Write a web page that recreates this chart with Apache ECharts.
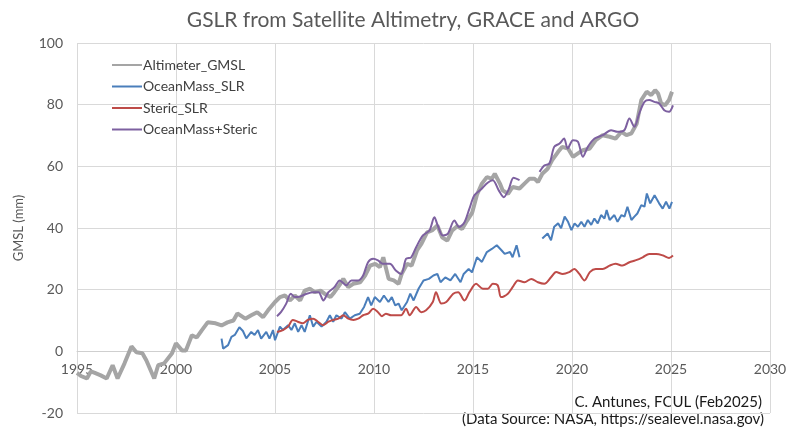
<!DOCTYPE html>
<html>
<head>
<meta charset="utf-8">
<script src="https://cdn.jsdelivr.net/npm/echarts@6/dist/echarts.min.js"></script>
<style>
html,body{margin:0;padding:0;background:#fff;}
#chart{width:793px;height:435px;}
</style>
</head>
<body>
<div id="chart"></div>
<script>
// ---- Data (year, mm) ----
var seriesNames = ['Altimeter_GMSL', 'OceanMass_SLR', 'Steric_SLR', 'OceanMass+Steric'];
var xTicks = [1995, 2000, 2005, 2010, 2015, 2020, 2025, 2030];
var yTicks = [-20, 0, 20, 40, 60, 80, 100];

var altimeterGMSL = [
[1995.0,-7.0],[1995.2,-8.0],[1995.5,-8.8],[1995.7,-6.5],[1995.9,-7.0],[1996.2,-7.8],[1996.5,-8.8],
[1996.8,-4.5],[1997.05,-8.8],[1997.4,-3.9],[1997.75,1.6],[1998.0,-0.3],[1998.3,-0.6],[1998.5,-2.9],
[1998.9,-8.8],[1999.1,-4.5],[1999.4,-3.9],[1999.8,-0.6],[2000.0,2.6],[2000.3,0.3],[2000.5,0.3],
[2000.8,5.2],[2001.05,4.5],[2001.3,6.8],[2001.6,9.4],[2002.0,9.1],[2002.3,8.4],[2002.6,9.4],
[2002.9,10.0],[2003.1,12.3],[2003.5,10.6],[2003.8,11.7],[2004.1,12.7],[2004.4,11.1],[2004.65,13.3],
[2005.0,16.0],[2005.25,17.6],[2005.5,18.1],[2005.76,16.5],[2006.0,18.1],[2006.27,16.5],[2006.5,19.7],
[2006.77,20.3],[2007.0,19.2],[2007.3,19.7],[2007.5,18.7],[2007.8,17.6],[2008.0,19.2],[2008.3,21.9],
[2008.45,23.5],[2008.7,20.8],[2008.95,21.9],[2009.3,22.4],[2009.55,24.6],[2009.8,27.8],[2010.06,28.4],
[2010.3,27.3],[2010.47,30.5],[2010.57,27.8],[2010.74,23.5],[2011.0,23.0],[2011.24,21.9],[2011.4,25.1],
[2011.67,28.4],[2011.9,27.8],[2012.17,32.7],[2012.4,34.9],[2012.68,38.6],[2012.93,39.2],[2013.2,40.8],
[2013.44,37.0],[2013.7,35.9],[2013.95,39.2],[2014.2,40.6],[2014.45,39.7],[2014.7,42.4],[2014.96,45.0],
[2015.2,50.8],[2015.45,54.4],[2015.7,56.5],[2015.95,56.0],[2016.1,57.6],[2016.36,54.4],[2016.5,52.2],
[2016.77,51.1],[2017.0,53.3],[2017.35,52.8],[2017.6,54.4],[2017.86,56.0],[2018.1,56.0],[2018.28,54.9],
[2018.5,57.6],[2018.77,59.2],[2019.0,62.0],[2019.3,64.7],[2019.5,66.3],[2019.8,65.8],[2020.05,63.1],
[2020.3,64.2],[2020.55,65.2],[2020.9,65.8],[2021.2,68.5],[2021.55,70.1],[2021.9,69.6],[2022.2,69.0],
[2022.5,71.2],[2022.75,70.1],[2023.0,70.7],[2023.27,73.9],[2023.5,81.5],[2023.77,84.2],[2024.0,83.1],
[2024.2,84.7],[2024.35,83.6],[2024.5,80.4],[2024.7,79.8],[2024.9,81.5],[2025.05,84.2]
];

var oceanMassSLR = [
[2002.3,4.1],[2002.38,0.9],[2002.63,2.0],[2002.8,4.7],[2002.97,5.3],[2003.2,7.8],[2003.38,6.6],
[2003.55,4.2],[2003.8,6.3],[2003.97,5.3],[2004.14,6.9],[2004.3,4.1],[2004.56,6.3],[2004.72,4.1],
[2004.9,6.9],[2005.0,3.6],[2005.25,8.0],[2005.4,6.9],[2005.66,8.5],[2005.83,6.9],[2006.0,9.1],
[2006.17,6.3],[2006.34,8.5],[2006.5,6.3],[2006.76,11.7],[2006.93,8.0],[2007.1,9.6],[2007.35,8.0],
[2007.6,9.6],[2007.77,11.7],[2007.94,9.6],[2008.1,11.7],[2008.36,10.6],[2008.53,12.7],[2008.78,10.6],
[2009.03,11.7],[2009.28,12.2],[2009.5,14.4],[2009.7,17.6],[2009.86,14.9],[2010.04,17.6],[2010.3,16.0],
[2010.5,18.1],[2010.73,16.0],[2010.9,17.6],[2011.07,14.9],[2011.24,15.5],[2011.4,13.3],[2011.67,16.0],
[2011.83,18.7],[2012.0,16.5],[2012.25,20.3],[2012.5,23.0],[2012.77,23.5],[2013.0,24.6],[2013.2,25.1],
[2013.36,22.4],[2013.6,24.0],[2013.86,23.0],[2014.1,25.1],[2014.37,22.4],[2014.53,25.1],[2014.78,26.7],
[2014.95,25.6],[2015.2,30.5],[2015.45,29.0],[2015.7,32.2],[2015.95,33.2],[2016.2,34.4],[2016.45,32.7],
[2016.6,31.6],[2016.87,32.2],[2017.0,30.5],[2017.2,34.4],[2017.35,30.5],
[2017.9,null],
[2018.5,36.6],[2018.77,38.2],[2018.94,36.0],[2019.1,40.4],[2019.3,41.5],[2019.45,39.9],[2019.63,43.7],
[2019.8,42.0],[2019.97,39.3],[2020.13,41.5],[2020.3,40.4],[2020.47,42.0],[2020.63,40.4],[2020.8,42.6],
[2020.97,41.0],[2021.13,43.1],[2021.3,41.5],[2021.47,44.2],[2021.64,43.1],[2021.75,45.8],[2021.9,42.6],
[2022.14,44.2],[2022.3,42.0],[2022.5,44.2],[2022.65,43.7],[2022.8,46.9],[2023.0,42.6],[2023.15,43.7],
[2023.3,44.7],[2023.5,47.4],[2023.66,46.9],[2023.78,51.2],[2023.95,48.0],[2024.17,50.6],[2024.4,48.0],
[2024.58,46.3],[2024.75,48.5],[2024.92,46.3],[2025.05,48.5]
];

var stericSLR = [
[2005.1,6.3],[2005.4,6.9],[2005.66,8.0],[2005.9,10.2],[2006.15,9.6],[2006.4,9.1],[2006.66,10.2],
[2006.93,10.6],[2007.17,9.6],[2007.43,8.5],[2007.7,9.6],[2007.94,10.2],[2008.2,10.6],[2008.45,11.7],
[2008.7,10.6],[2008.96,10.2],[2009.2,10.6],[2009.45,11.7],[2009.7,12.2],[2009.96,13.8],[2010.2,12.7],
[2010.4,11.4],[2010.6,12.2],[2010.87,11.7],[2011.2,11.7],[2011.37,11.7],[2011.62,13.8],[2011.8,11.7],
[2012.13,14.4],[2012.38,12.7],[2012.63,13.3],[2012.97,16.0],[2013.13,19.2],[2013.4,15.5],[2013.65,16.0],
[2014.0,18.7],[2014.25,19.2],[2014.57,16.5],[2014.82,19.2],[2015.16,21.9],[2015.5,20.3],[2015.75,20.3],
[2016.0,21.9],[2016.25,21.4],[2016.42,17.6],[2016.76,18.7],[2017.0,20.8],[2017.27,23.0],[2017.6,22.4],
[2017.95,23.5],[2018.28,22.4],[2018.6,21.9],[2018.95,24.1],[2019.2,25.7],[2019.53,25.1],[2019.86,25.7],
[2020.12,26.7],[2020.37,25.1],[2020.63,23.0],[2020.9,25.7],[2021.2,26.7],[2021.55,26.7],[2021.9,27.8],
[2022.2,28.4],[2022.55,27.8],[2022.9,28.9],[2023.2,29.5],[2023.57,30.5],[2023.9,31.6],[2024.25,31.6],
[2024.6,31.1],[2024.9,30.3],[2025.1,31.1]
];

var oceanMassPlusSteric = [
[2005.1,11.4],[2005.3,12.7],[2005.56,15.4],[2005.8,18.7],[2006.0,17.6],[2006.27,17.8],[2006.6,18.7],
[2006.95,19.2],[2007.2,19.2],[2007.44,16.5],[2007.7,19.2],[2008.0,20.8],[2008.27,23.0],[2008.6,21.4],
[2008.86,23.0],[2009.2,23.0],[2009.45,24.6],[2009.7,28.9],[2009.96,30.0],[2010.2,29.5],[2010.45,28.4],
[2010.8,28.4],[2011.1,26.2],[2011.37,25.1],[2011.62,30.0],[2011.88,30.5],[2012.13,33.8],[2012.47,37.6],
[2012.8,39.2],[2013.05,43.5],[2013.22,40.8],[2013.47,37.6],[2013.72,38.1],[2014.06,42.4],[2014.3,40.3],
[2014.57,41.9],[2014.82,46.3],[2015.07,50.6],[2015.4,52.5],[2015.74,54.7],[2016.0,55.5],[2016.3,52.2],
[2016.55,50.0],[2016.8,52.5],[2017.05,56.3],[2017.35,55.5],
[2017.9,null],
[2018.36,58.2],[2018.6,60.3],[2018.86,60.9],[2019.1,66.3],[2019.37,67.4],[2019.6,69.0],[2019.78,65.8],
[2020.05,68.5],[2020.3,68.0],[2020.55,63.1],[2020.8,66.3],[2021.14,69.0],[2021.55,70.1],[2021.97,71.7],
[2022.3,71.2],[2022.64,71.7],[2022.9,75.5],[2023.15,72.8],[2023.4,77.2],[2023.66,80.9],[2023.9,81.5],
[2024.16,80.9],[2024.4,80.4],[2024.66,78.2],[2024.9,77.7],[2025.1,79.8]
];

function prep(arr){ return arr.map(function(p){ return [p[0], p[1] === null ? '-' : p[1]]; }); }

var FONT = 'Lato, "Open Sans", sans-serif';
var GRID_TOP = 43, GRID_BOTTOM = 22, CH = 435;
var plotH = CH - GRID_TOP - GRID_BOTTOM;
// distance of the value-0 line above the bottom of the plot, from the y scale
var zeroOffset = plotH * (0 - yTicks[0]) / (yTicks[yTicks.length-1] - yTicks[0]);

var chart = echarts.init(document.getElementById('chart'), null, {renderer:'canvas'});
var option = {
  animation: false,
  backgroundColor: '#ffffff',
  textStyle: {fontFamily: FONT},
  title: {
    text: 'GSLR from Satellite Altimetry, GRACE and ARGO',
    left: 408, top: 5, textAlign: 'center',
    textStyle: {fontFamily: FONT, fontSize: 21, fontWeight: 'normal', color: '#595959'}
  },
  legend: {
    orient: 'vertical', left: 106, top: 53,
    itemWidth: 30, itemHeight: 14, itemGap: 7.5,
    itemStyle: {opacity: 0},
    textStyle: {fontFamily: FONT, fontSize: 14, color: '#404040', padding: [0,0,0,-4]},
    data: seriesNames
  },
  grid: {left: 77, right: 23, top: GRID_TOP, bottom: GRID_BOTTOM, containLabel: false},
  xAxis: {
    type: 'value', min: xTicks[0], max: xTicks[xTicks.length-1], interval: 5,
    offset: -zeroOffset,
    axisLine: {show: true, onZero: false, lineStyle: {color: '#cfcfcf', width: 1}},
    axisTick: {show: false},
    axisLabel: {fontFamily: FONT, fontSize: 14, color: '#595959', margin: 11,
      formatter: function(v){ return String(v); }},
    splitLine: {show: true, lineStyle: {color: '#d9d9d9', width: 1}}
  },
  yAxis: {
    type: 'value', min: yTicks[0], max: yTicks[yTicks.length-1], interval: 20,
    name: 'GMSL (mm)', nameLocation: 'middle', nameGap: 52, nameRotate: 90,
    nameTextStyle: {fontFamily: FONT, fontSize: 13, color: '#595959'},
    axisLine: {show: false}, axisTick: {show: false},
    axisLabel: {fontFamily: FONT, fontSize: 14, color: '#595959', margin: 14},
    splitLine: {show: true, lineStyle: {color: '#d9d9d9', width: 1}}
  },
  series: [
    {name: seriesNames[0], type: 'line', data: prep(altimeterGMSL), symbol: 'none',
     lineStyle: {color: '#a5a5a5', width: 4}, itemStyle: {color: '#a5a5a5'}, z: 2},
    {name: seriesNames[1], type: 'line', data: prep(oceanMassSLR), symbol: 'none',
     lineStyle: {color: '#4a7ebb', width: 2}, itemStyle: {color: '#4a7ebb'}, z: 3},
    {name: seriesNames[2], type: 'line', data: prep(stericSLR), symbol: 'none', smooth: 0.3,
     lineStyle: {color: '#be4b48', width: 2}, itemStyle: {color: '#be4b48'}, z: 4},
    {name: seriesNames[3], type: 'line', data: prep(oceanMassPlusSteric), symbol: 'none', smooth: 0.3,
     lineStyle: {color: '#7d60a0', width: 2}, itemStyle: {color: '#7d60a0'}, z: 5}
  ],
  graphic: [
    {type: 'text', right: 31, top: 395, style: {text: 'C. Antunes, FCUL (Feb2025)',
      font: '15px ' + FONT, fill: '#1a1a1a', textAlign: 'right'}},
    {type: 'text', right: 29, top: 412, style: {text: '(Data Source: NASA, https://sealevel.nasa.gov)',
      font: '15px ' + FONT, fill: '#1a1a1a', textAlign: 'right'}}
  ]
};
chart.setOption(option);
</script>
</body>
</html>
